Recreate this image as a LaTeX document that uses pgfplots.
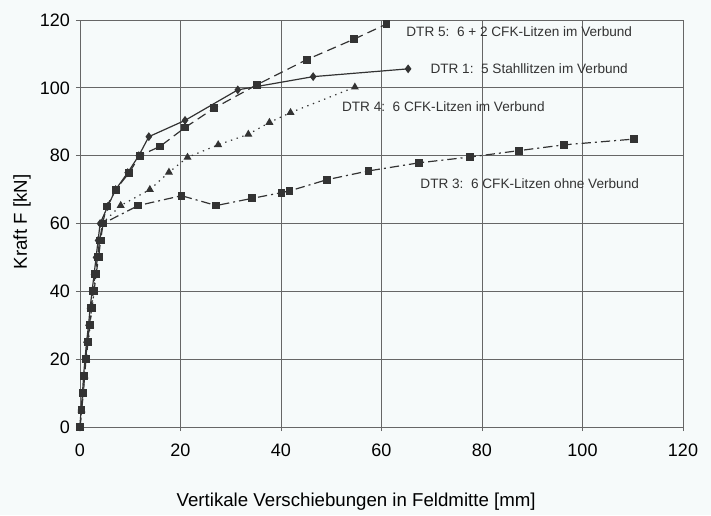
\documentclass[border=0pt]{standalone}
\usepackage{fontspec}
\setmainfont{Liberation Sans}
\usepackage{pgfplots}
\pgfplotsset{compat=1.18}
\definecolor{bg}{rgb}{0.965,0.98,0.98}
\definecolor{ln}{rgb}{0.2,0.2,0.2}
\definecolor{gr}{rgb}{0.4,0.4,0.4}
\begin{document}
\begin{tikzpicture}
\fill[bg] (-60pt,-66pt) rectangle (473.25pt,320.25pt);
\begin{axis}[
  scale only axis,
  width=452.25pt, height=305.25pt,
  at={(0,0)}, anchor=south west,
  xmin=0, xmax=120, ymin=0, ymax=120,
  xtick={0,20,...,120}, ytick={0,20,...,120},
  grid=major,
  major grid style={gr, line width=0.6pt},
  axis line style={gr, line width=0.6pt},
  tick align=outside, major tick length=3pt,
  tick style={gr, line width=0.6pt},
  xtick pos=bottom, ytick pos=left,
  /pgf/number format/assume math mode=true,
  tick label style={font=\fontsize{13.5}{15}\selectfont},
  xticklabel style={yshift=-6pt},
  yticklabel style={xshift=-1pt},
  xlabel={Vertikale Verschiebungen in Feldmitte [mm]},
  xlabel style={font=\fontsize{14}{16}\selectfont, at={(rel axis cs:0.458,0)}, anchor=center, yshift=-56pt},
  ylabel={Kraft F [kN]},
  ylabel style={font=\fontsize{14}{16}\selectfont, at={(rel axis cs:-0.0962,0.504)}, anchor=center},
  every axis plot/.append style={ln, line width=0.9pt},
]
% DTR 5
\addplot[dash pattern=on 7pt off 4pt, mark=square*, mark size=2.5pt, mark options={solid}] coordinates {
(0,0)(0.3,5)(0.6,10)(0.8,15)(1.1,20)(1.5,25)(1.9,30)(2.2,35)(2.6,40)(3.0,45)(3.5,50)(3.9,55)(4.5,60)(5.3,65)(7.1,70)(9.8,75)(11.9,80)(15.9,82.7)(20.9,88.3)(26.7,94)(35.2,100.9)(45.1,108.3)(54.6,114.4)(61.0,118.8)};
% DTR 1
\addplot[solid, mark=diamond*, mark size=2.6pt] coordinates {
(0,0)(0.2,5)(0.5,10)(0.7,15)(1.0,20)(1.3,25)(1.7,30)(2.0,35)(2.4,40)(2.8,45)(3.2,50)(3.6,55)(4.0,60)(5.5,65)(7.1,70)(9.5,75)(11.7,80)(13.7,85.6)(20.9,90.4)(31.4,99.4)(46.4,103.3)(65.3,105.6)};
% DTR 4
\addplot[dash pattern=on 1pt off 3.5pt, mark=triangle*, mark size=2.6pt, mark options={solid}] coordinates {
(0,0)(0.3,5)(0.6,10)(0.9,15)(1.2,20)(1.6,25)(2.0,30)(2.3,35)(2.7,40)(3.1,45)(3.6,50)(4.0,55)(4.4,60)(8.1,65.3)(13.9,70)(17.7,75.1)(21.4,79.5)(27.5,83.2)(33.5,86.3)(37.7,89.8)(41.9,92.7)(54.7,100.2)};
% DTR 3
\addplot[dash pattern=on 7pt off 3pt on 1.5pt off 3pt, mark=square*, mark size=2.5pt, mark options={solid}] coordinates {
(0,0)(0.3,5)(0.7,10)(0.9,15)(1.2,20)(1.6,25)(2.0,30)(2.4,35)(2.8,40)(3.2,45)(3.7,50)(4.1,55)(4.6,60)(11.6,65.3)(20.2,68.2)(27.1,65.3)(34.2,67.4)(40.1,69.1)(41.7,69.6)(49.1,72.9)(57.4,75.5)(67.5,77.9)(77.6,79.6)(87.4,81.5)(96.4,83.2)(110.3,84.9)};
\begin{scope}[every node/.style={anchor=west, inner sep=0pt, font=\fontsize{10.2}{12}\selectfont, text=ln}]
\node at (axis cs:64.9,116.5) {DTR 5:\ \ 6 + 2 CFK-Litzen im Verbund};
\node at (axis cs:69.7,105.6) {DTR 1:\ \ 5 Stahllitzen im Verbund};
\node at (axis cs:52.1,94.4) {DTR 4:\ \ 6 CFK-Litzen im Verbund};
\node at (axis cs:67.7,71.7) {DTR 3:\ \ 6 CFK-Litzen ohne Verbund};
\end{scope}
\end{axis}
\pgfresetboundingbox
\path (-60pt,-66pt) rectangle (473.25pt,320.25pt);
\end{tikzpicture}
\end{document}
